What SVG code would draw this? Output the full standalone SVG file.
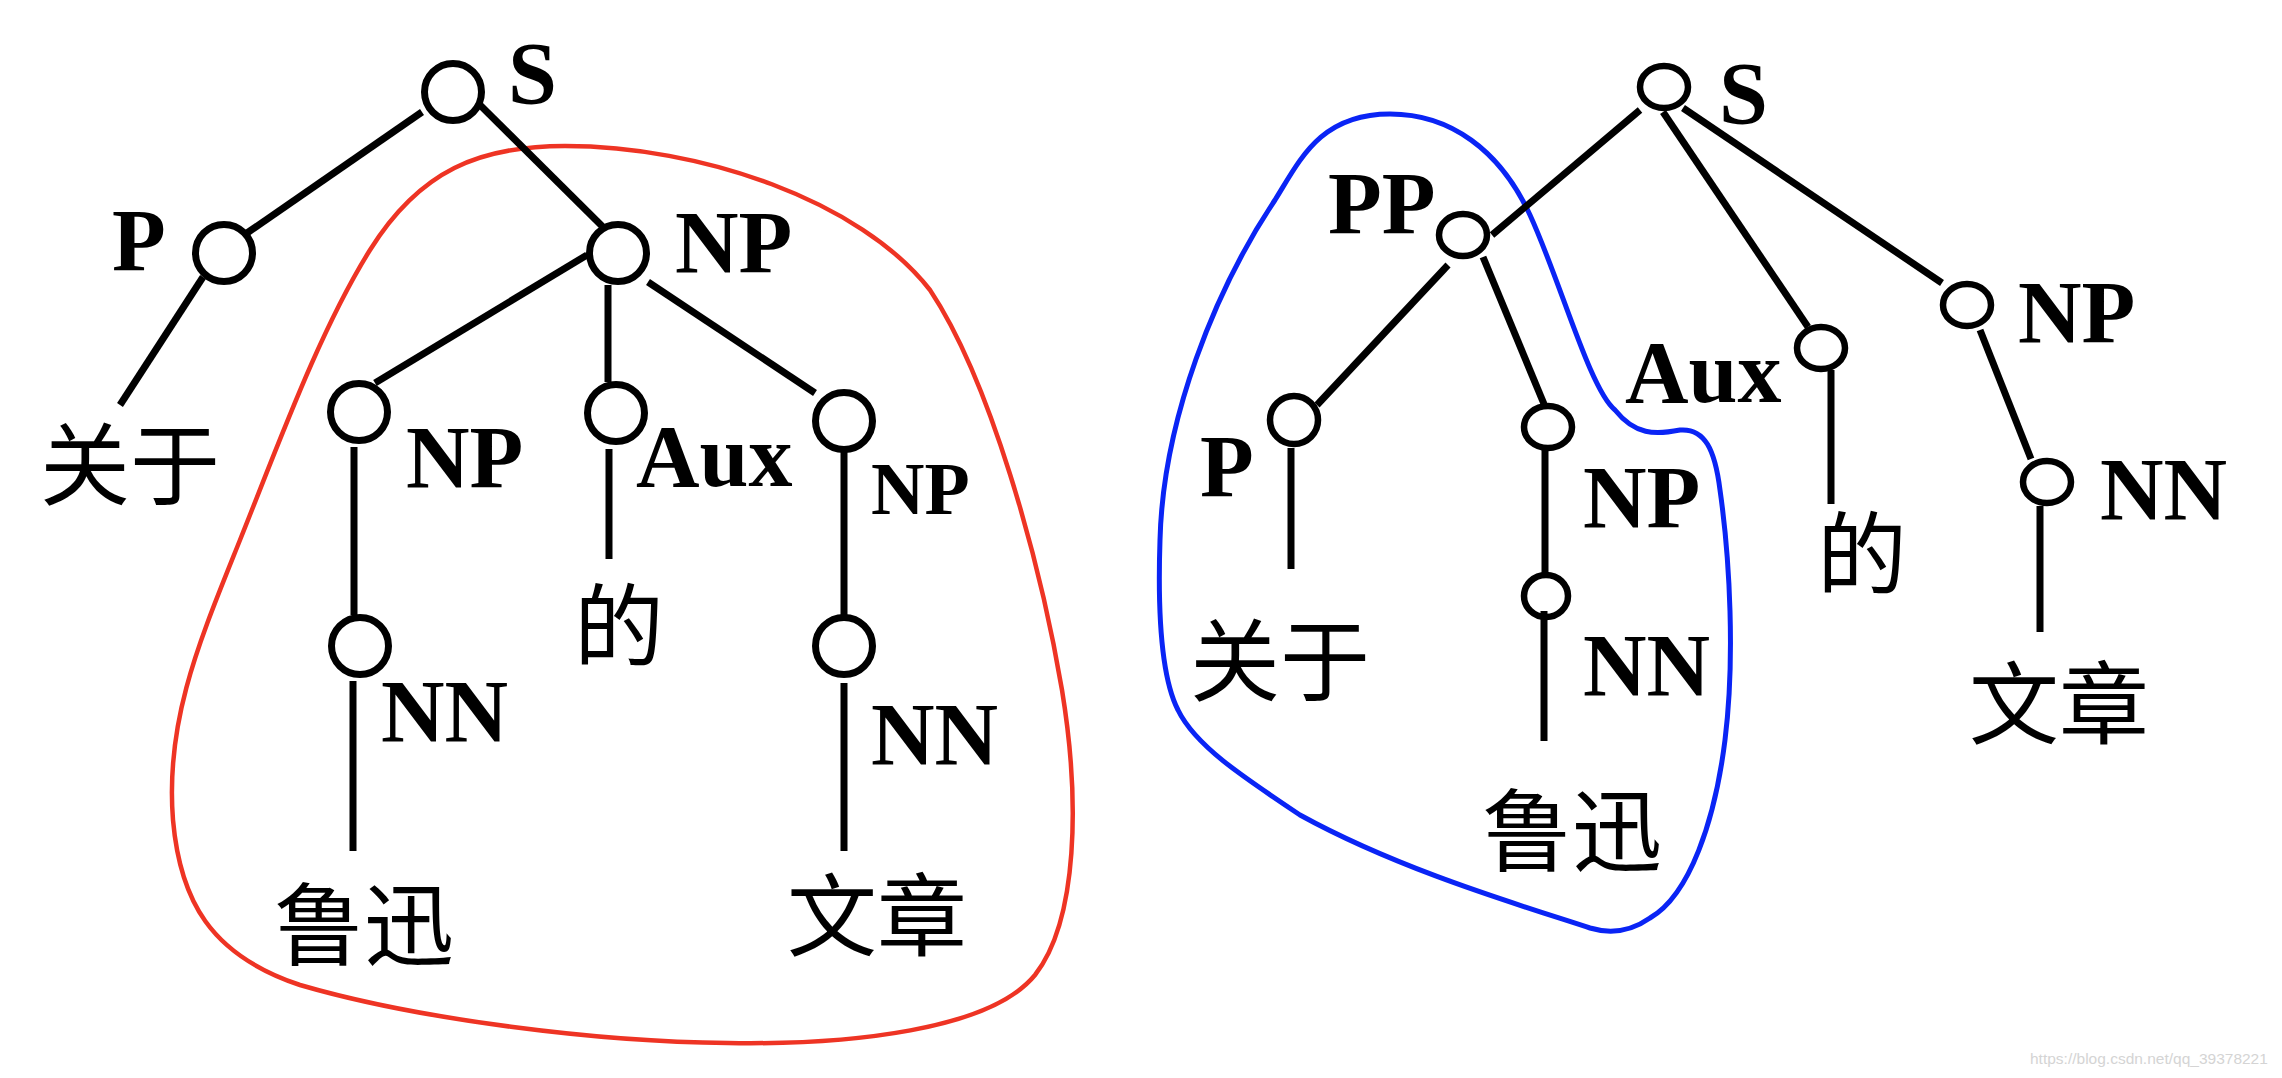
<svg xmlns="http://www.w3.org/2000/svg" width="2282" height="1078" viewBox="0 0 2282 1078">
<style>
.n{fill:none;stroke:#000;stroke-width:7}
.nr{fill:none;stroke:#000;stroke-width:6.5}
.e{stroke:#000;stroke-width:7;fill:none}
.lb{font-family:"Liberation Serif","Times New Roman",serif;font-weight:bold;font-size:88px;fill:#000}
.zh{font-family:"Noto Sans CJK SC","Noto Sans CJK TC",sans-serif;font-size:90px;fill:#000;text-anchor:middle}
</style>
<rect width="2282" height="1078" fill="#fff"/>
<path id="red-outline" fill="none" stroke="#ee3424" stroke-width="4.5" d="M 565,146 C 700,146 860,200 930,290 C 990,380 1040,560 1062,690 C 1080,800 1078,920 1035,975 C 990,1030 850,1045 728,1043 C 600,1042 420,1020 300,985 C 210,955 180,900 173,820 C 165,720 200,640 240,540 C 280,440 320,330 370,250 C 420,170 480,146 565,146 Z"/>
<path id="blue-outline" fill="none" stroke="#0a24f5" stroke-width="5" d="M 1390,114 C 1450,114 1500,150 1530,215 C 1560,280 1590,390 1615,410 C 1635,435 1655,435 1680,430 C 1705,428 1715,450 1720,490 C 1730,560 1735,660 1725,740 C 1715,820 1690,895 1650,918 C 1630,932 1610,934 1590,928 C 1520,905 1400,870 1300,815 C 1240,775 1195,745 1178,710 C 1160,675 1158,600 1160,540 C 1163,420 1215,290 1275,200 C 1300,160 1320,114 1390,114 Z"/>
<g id="connectors">
<line class="e" x1="422" y1="112" x2="247" y2="233"/>
<line class="e" x1="480" y1="105" x2="603" y2="227"/>
<line class="e" x1="203" y1="277" x2="120" y2="405"/>
<line class="e" x1="587" y1="255" x2="375" y2="383"/>
<line class="e" x1="608" y1="285" x2="608" y2="382"/>
<line class="e" x1="648" y1="282" x2="815" y2="393"/>
<line class="e" x1="354" y1="447" x2="354" y2="615"/>
<line class="e" x1="353" y1="681" x2="353" y2="851"/>
<line class="e" x1="609" y1="449" x2="609" y2="559"/>
<line class="e" x1="844" y1="452" x2="844" y2="615"/>
<line class="e" x1="844" y1="683" x2="844" y2="851"/>
<line class="e" x1="1640" y1="110" x2="1492" y2="235"/>
<line class="e" x1="1663" y1="112" x2="1808" y2="327"/>
<line class="e" x1="1683" y1="108" x2="1942" y2="283"/>
<line class="e" x1="1448" y1="265" x2="1317" y2="405"/>
<line class="e" x1="1483" y1="257" x2="1544" y2="404"/>
<line class="e" x1="1291" y1="448" x2="1291" y2="569"/>
<line class="e" x1="1545" y1="450" x2="1545" y2="573"/>
<line class="e" x1="1544" y1="611" x2="1544" y2="741"/>
<line class="e" x1="1831" y1="370" x2="1831" y2="504"/>
<line class="e" x1="1980" y1="330" x2="2031" y2="459"/>
<line class="e" x1="2040" y1="506" x2="2040" y2="632"/>
</g>
<g id="L-S"><circle class="n" cx="453" cy="92" r="28.5"/><text class="lb" x="508" y="103">S</text></g>
<g id="L-P"><circle class="n" cx="224" cy="253" r="28.5"/><text class="lb" x="112" y="270">P</text></g>
<g id="L-NP"><circle class="n" cx="618" cy="253" r="28.5"/><text class="lb" x="675" y="272">NP</text></g>
<g id="L-NP2"><circle class="n" cx="359" cy="412" r="28.5"/><text class="lb" x="406" y="487">NP</text></g>
<g id="L-Aux"><circle class="n" cx="616" cy="413" r="28.5"/><text class="lb" x="636" y="486">Aux</text></g>
<g id="L-NP3"><circle class="n" cx="844" cy="421" r="28.5"/><text class="lb" x="871" y="514" style="font-size:74px">NP</text></g>
<g id="L-NN2"><circle class="n" cx="360" cy="646" r="28.5"/><text class="lb" x="381" y="741">NN</text></g>
<g id="L-NN3"><circle class="n" cx="844" cy="646" r="28.5"/><text class="lb" x="871" y="764">NN</text></g>
<g id="L-w1"><text class="zh" x="130" y="498">关于</text></g>
<g id="L-w2"><text class="zh" x="364" y="958">鲁迅</text></g>
<g id="L-w3"><text class="zh" x="619" y="659">的</text></g>
<g id="L-w4"><text class="zh" x="877" y="949">文章</text></g>
<g id="R-S"><ellipse class="nr" cx="1664" cy="87" rx="24" ry="21"/><text class="lb" x="1719" y="123">S</text></g>
<g id="R-PP"><ellipse class="nr" cx="1463" cy="235" rx="24" ry="21"/><text class="lb" x="1328" y="233">PP</text></g>
<g id="R-P"><ellipse class="nr" cx="1294" cy="420" rx="24" ry="24"/><text class="lb" x="1200" y="496">P</text></g>
<g id="R-NP"><ellipse class="nr" cx="1548" cy="427" rx="24" ry="21"/><text class="lb" x="1583" y="527">NP</text></g>
<g id="R-NN"><ellipse class="nr" cx="1546" cy="596" rx="22" ry="21"/><text class="lb" x="1583" y="695">NN</text></g>
<g id="R-Aux"><ellipse class="nr" cx="1821" cy="348" rx="24" ry="21"/><text class="lb" x="1625" y="402">Aux</text></g>
<g id="R-NP2"><ellipse class="nr" cx="1967" cy="305" rx="24" ry="21"/><text class="lb" x="2018" y="342">NP</text></g>
<g id="R-NN2"><ellipse class="nr" cx="2047" cy="482" rx="24" ry="21"/><text class="lb" x="2100" y="519">NN</text></g>
<g id="R-w1"><text class="zh" x="1280" y="694">关于</text></g>
<g id="R-w2"><text class="zh" x="1572" y="864">鲁迅</text></g>
<g id="R-w3"><text class="zh" x="1862" y="587">的</text></g>
<g id="R-w4"><text class="zh" x="2059" y="737">文章</text></g>
<text x="2030" y="1064" font-family="Liberation Sans, sans-serif" font-size="15.5" fill="#d4d4d4">https://blog.csdn.net/qq_39378221</text>
</svg>
